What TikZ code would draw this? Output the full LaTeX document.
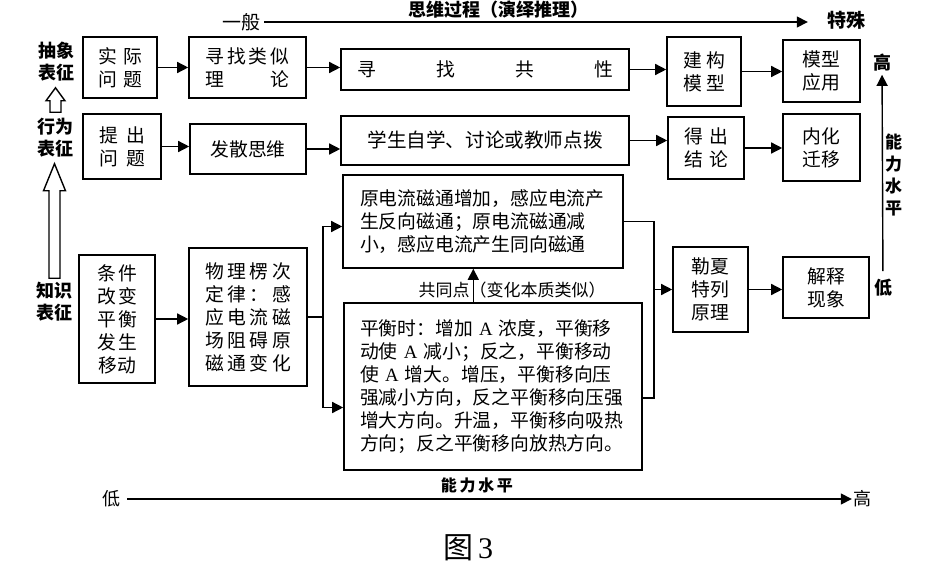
\documentclass[tikz,border=0pt]{standalone}
\usepackage{fontspec}
\setmainfont{Noto Sans CJK SC}
\newfontfamily\serifnum{Liberation Serif}
\usepackage{tikz}
\usetikzlibrary{arrows.meta,calc,positioning}

\newcommand\boxfont{\fontsize{18.8}{23}\selectfont}
\newcommand\tagfont{\fontsize{18}{22}\selectfont\bfseries}

\begin{document}
\begin{tikzpicture}[x=1pt,y=-1pt,
    >={Triangle[length=11pt,width=11pt]},
    every edge/.style={draw=black,line width=1.4pt}]
  \useasboundingbox (0,0) rectangle (925,577);
  % boxes
  \begin{scope}[every node/.style={draw,line width=1.6pt,inner sep=0pt,align=center,font=\boxfont}]
    \node[minimum width=74,minimum height=61,text width=44] (sjwt) at (120,67.5) {实\hfill 际\\问\hfill 题};
    \node[minimum width=117,minimum height=61,text width=84] (xzll) at (247.5,67.5) {寻\hfill 找\hfill 类\hfill 似\\理\hfill 论};
    \node[minimum width=288,minimum height=41,text width=256] (xzgx) at (485,69.5) {寻\hfill 找\hfill 共\hfill 性};
    \node[minimum width=74,minimum height=69,text width=42] (jgmx) at (704,71.5) {建\hfill 构\\模\hfill 型};
    \node[minimum width=77,minimum height=62] (mxyy) at (821.5,71) {模型\\应用};
    \node[minimum width=78,minimum height=65,text width=46] (tcwt) at (122,146.5) {提\hfill 出\\问\hfill 题};
    \node[minimum width=116,minimum height=50] (fssw) at (248,149) {发散思维};
    \node[minimum width=288,minimum height=49,font=\fontsize{19.6}{23}\selectfont] (xszx) at (485,140.5) {学生自学、讨论或教师点拨};
    \node[minimum width=76,minimum height=62,text width=44] (dcjl) at (706,148) {得\hfill 出\\结\hfill 论};
    \node[minimum width=77,minimum height=67] (nhqy) at (821.5,147.5) {内化\\迁移};
    \node[minimum width=76,minimum height=128,text width=40] (tjgb) at (117,319) {条\hfill 件\\改\hfill 变\\平\hfill 衡\\发\hfill 生\\移动\hfill};
    \node[minimum width=118,minimum height=138,text width=86] (lcdl) at (248,317) {物\hfill 理\hfill 楞\hfill 次\\定\hfill 律\hfill ：\hfill 感\\应\hfill 电\hfill 流\hfill 磁\\场\hfill 阻\hfill 碍\hfill 原\\磁\hfill 通\hfill 变\hfill 化};
    \node[minimum width=280,minimum height=93,text width=246,align=left] (ydl) at (483,221.5) {原电流磁通增加，感应电流产\\生反向磁通；原电流磁通减\\小，感应电流产生同向磁通};
    \node[minimum width=298,minimum height=167,text width=266,align=left] (phs) at (493,386.5) {平衡时：增加 {\serifnum A} 浓度，平衡移\\动使 {\serifnum A} 减小；反之，平衡移动\\使 {\serifnum A} 增大。增压，平衡移向压\\强减小方向，反之平衡移向压强\\增大方向。升温，平衡移向吸热\\方向；反之平衡移向放热方向。};
    \node[minimum width=75,minimum height=85] (lxt) at (710.5,289.5) {勒夏\\特列\\原理};
    \node[minimum width=86,minimum height=61] (jsxx) at (826,287.5) {解释\\现象};
  \end{scope}
  % labels
  \begin{scope}[every node/.style={inner sep=0pt,align=center}]
    \node[font=\tagfont] (cxbz) at (56.5,62) {抽象\\表征};
    \node[font=\tagfont] (xwbz) at (55.5,138) {行为\\表征};
    \node[font=\tagfont] (zsbz) at (54.5,302) {知识\\表征};
    \node[font=\fontsize{19}{22}\selectfont] (yb) at (241,22) {一般};
    \node[font=\fontsize{19}{22}\selectfont\bfseries] (ts) at (846,20) {特殊};
    \node[font=\tagfont] (gao2) at (882,63) {高};
    \node[font=\tagfont] (di2) at (883,288) {低};
    \node[font=\fontsize{18}{22}\selectfont] (di1) at (111,499) {低};
    \node[font=\fontsize{18}{22}\selectfont] (gao1) at (862,499) {高};
    \node[font=\fontsize{17}{20}\selectfont] (gtd) at (512,290) {共同点（变化本质类似）};
    \node[font=\fontsize{30}{34}\selectfont] (tu) at (468,548) {图\,{\serifnum 3}};
  \end{scope}
  % arrows between boxes
  \path (sjwt) edge[->] (sjwt -| xzll.west);
  \path (xzll) edge[->] (xzll -| xzgx.west);
  \path (xzgx) edge[->] (xzgx -| jgmx.west);
  \path (jgmx) edge[->] (jgmx -| mxyy.west);
  \path (tcwt) edge[->] (tcwt -| fssw.west);
  \path (fssw) edge[->] (fssw -| xszx.west);
  \path (xszx) edge[->] (xszx -| dcjl.west);
  \path (dcjl) edge[->] (dcjl -| nhqy.west);
  \path (tjgb) edge[->] (tjgb -| lcdl.west);
  \path (lxt) edge[->] (lxt -| jsxx.west);
  \begin{scope}[line width=1.4pt]
    % fork and merge
    \coordinate (fk) at ([xshift=15pt]lcdl.east);
    \draw (lcdl.east) -- (fk);
    \draw[->] (fk) |- ([yshift=-5pt]ydl.west);
    \draw[->] (fk) |- ([yshift=-21pt]phs.west);
    \coordinate (ydlr) at ([xshift=30pt]ydl.east);
    \coordinate (phsr) at ([yshift=-11.5pt]phs.east);
    \draw (ydl.east) -- (ydlr) -- (ydlr |- phsr) -- (phsr);
    \draw[->] (ydlr |- lxt.west) -- (lxt.west);
    \coordinate (gtdx) at ([xshift=55pt]gtd.west);
    \draw[->] (gtdx |- phs.north) -- (gtdx |- ydl.south);
    % axes
    \draw[->,shorten <=4pt,shorten >=19pt] (yb) -- (yb -| ts.west)
      node[pos=0.42,above=3pt,inner sep=0pt,font=\fontsize{18}{20}\selectfont\bfseries] (swgc) {思维过程（演绎推理）};
    \draw[->,shorten <=8pt,shorten >=3pt] (di2) -- (gao2)
      node[midway,right=2pt,inner sep=0pt,align=center,font=\fontsize{17}{22}\selectfont\bfseries] (nlsp2) {能\\力\\水\\平};
    \draw[->,shorten <=7pt,shorten >=1pt] (di1) -- (gao1)
      node[pos=0.487,above=5pt,inner sep=0pt,font=\fontsize{16}{20}\selectfont\bfseries] (nlsp1) {能\,力\,水\,平};
    % hollow arrows
    \coordinate (t1) at ([yshift=-6pt]cxbz.south);
    \coordinate (b1) at ([yshift=6pt]xwbz.north);
    \coordinate (tip1) at (b1 |- t1);
    \draw[line join=miter] (tip1) -- ++(9.5,13) -- ++(-4,0) -- ($(b1)+(5.5,0)$) -- ++(-11,0)
      -- ($(tip1)+(-5.5,13)$) -- ++(-4,0) -- cycle;
    \coordinate (t2) at ([yshift=-6pt]xwbz.south);
    \coordinate (b2) at ([yshift=4pt]zsbz.north);
    \coordinate (tip2) at (b2 |- t2);
    \draw[line join=miter] (tip2) -- ++(11,27) -- ++(-5.5,0) -- ($(b2)+(5.5,0)$) -- ++(-11,0)
      -- ($(tip2)+(-5.5,27)$) -- ++(-5.5,0) -- cycle;
  \end{scope}
\end{tikzpicture}
\end{document}
